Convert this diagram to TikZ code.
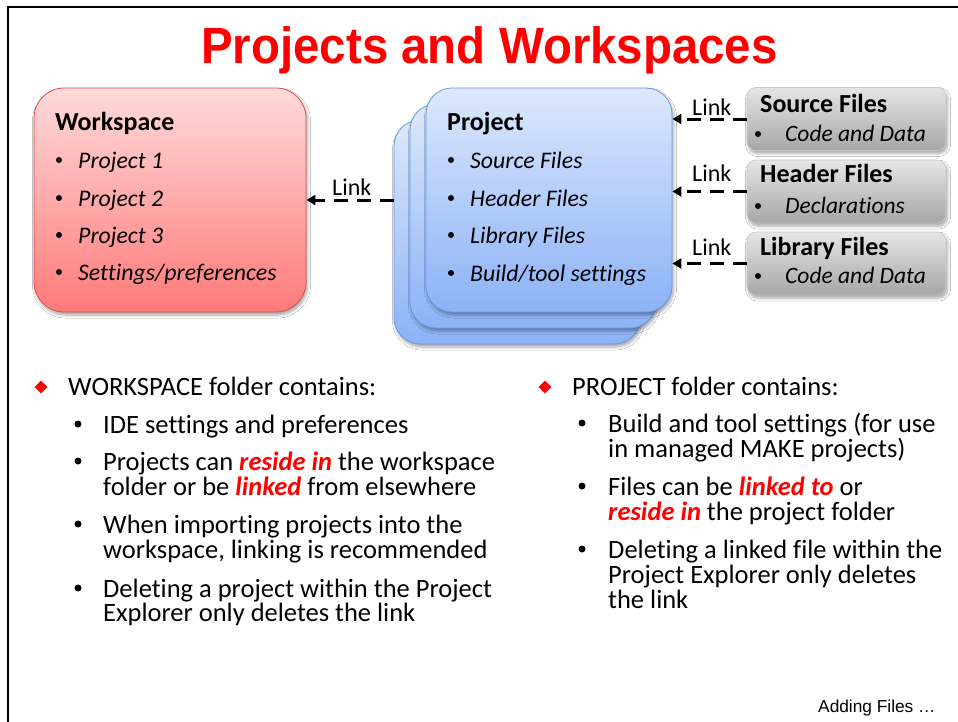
\documentclass[tikz,border=0pt]{standalone}
\usepackage{fontspec}
\setmainfont[Ligatures=NoCommon]{Carlito}
\newfontfamily\arialfont{Liberation Sans}
\usetikzlibrary{shadows.blur, arrows.meta, shapes.geometric}

\definecolor{titlered}{RGB}{255,0,0}
\definecolor{empred}{RGB}{255,0,0}
\definecolor{wstop}{RGB}{255,218,218}
\definecolor{wsbot}{RGB}{255,122,122}
\definecolor{wsedge}{RGB}{228,72,72}
\definecolor{prtop}{RGB}{220,232,253}
\definecolor{prbot}{RGB}{140,178,247}
\definecolor{predge}{RGB}{104,152,232}
\definecolor{fltop}{RGB}{230,230,230}
\definecolor{flbot}{RGB}{166,166,166}
\definecolor{fledge}{RGB}{200,200,200}

\newcommand\hot[1]{{\color{empred}\bfseries\itshape #1}}

\tikzset{
  softshadow/.style={blur shadow={shadow blur steps=6, shadow xshift=1.5pt,
      shadow yshift=-3pt, shadow opacity=35, shadow blur radius=3pt}},
  wsbox/.style={draw=wsedge, line width=0.8pt, rounded corners=30pt,
      top color=wstop, bottom color=wsbot, softshadow,
      minimum width=272pt, minimum height=224pt, inner sep=0pt},
  prbox/.style={draw=predge, line width=0.8pt, rounded corners=26pt,
      top color=prtop, bottom color=prbot, softshadow,
      minimum width=246pt, minimum height=224pt, inner sep=0pt},
  flbox/.style={draw=fledge, line width=0.6pt, rounded corners=9pt,
      top color=fltop, bottom color=flbot, softshadow,
      minimum width=199pt, minimum height=63pt, inner sep=0pt},
  linkarrow/.style={line width=3pt, dash pattern=on 14pt off 9pt,
      -{Triangle[length=9pt,width=10pt]}},
  linklabel/.style={anchor=base west, inner sep=0pt,
      font=\fontsize{24}{24}\selectfont},
  body/.style={anchor=base west, inner sep=0pt,
      font=\fontsize{26.5}{25}\selectfont},
  boxhead/.style={anchor=base west, inner sep=0pt,
      font=\fontsize{26}{26}\selectfont\bfseries},
  boxitem/.style={anchor=base west, inner sep=0pt,
      font=\fontsize{23.8}{23.8}\selectfont\itshape},
  fileitem/.style={anchor=base west, inner sep=0pt,
      font=\fontsize{23.5}{23.5}\selectfont\itshape},
  dot/.style={circle, fill=black, inner sep=0pt, minimum size=6pt},
  bigdot/.style={circle, fill=black, inner sep=0pt, minimum size=7pt},
  reddiamond/.style={diamond, fill=empred, inner sep=0pt,
      minimum width=13pt, minimum height=13pt}
}

\begin{document}
\begin{tikzpicture}[x=1pt,y=-1pt]
  \useasboundingbox (0,0) rectangle (958,721);
  \fill[white] (0,0) rectangle (958,721);

  % slide frame (left and top edges)
  \draw[line width=2.5pt] (8,722) -- (8,7) -- (959,7);

  % title
  \node[anchor=base, inner sep=0pt, text=titlered] (title) at (489.5,63)
    {\scalebox{0.93}[1]{\fontsize{51}{51}\arialfont\bfseries Projects and Workspaces}};

  % workspace box
  \node[wsbox] (ws) at (170,200) {};
  \node[boxhead] (wshead) at (55,130) {Workspace};
  \node[dot] (wsd1) at (59,160) {};
  \node[dot] (wsd2) at (59,198) {};
  \node[dot] (wsd3) at (59,235) {};
  \node[dot] (wsd4) at (59,272) {};
  \node[boxitem] (wsi1) at (78,168) {Project 1};
  \node[boxitem] (wsi2) at (78,206) {Project 2};
  \node[boxitem] (wsi3) at (78,243) {Project 3};
  \node[boxitem] (wsi4) at (78,280) {Settings/preferences};

  % stacked project boxes, back to front
  \node[prbox] (prj3) at (517,232) {};
  \node[prbox] (prj2) at (533,216) {};
  \node[prbox] (prj1) at (549,200) {};
  \node[boxhead] (prhead) at (447,130) {Project};
  \node[dot] (prd1) at (451,160) {};
  \node[dot] (prd2) at (451,198) {};
  \node[dot] (prd3) at (451,235) {};
  \node[dot] (prd4) at (451,273) {};
  \node[boxitem] (pri1) at (470,168) {Source Files};
  \node[boxitem] (pri2) at (470,206) {Header Files};
  \node[boxitem] (pri3) at (470,243) {Library Files};
  \node[boxitem] (pri4) at (470,281) {Build/tool settings};

  % file group boxes
  \node[flbox] (src) at (846.5,119) {};
  \node[flbox] (hdr) at (846.5,191.5) {};
  \node[flbox] (lib) at (846.5,263.5) {};
  \node[boxhead] (srchead) at (760,112) {Source Files};
  \node[dot] (srcd) at (758,134) {};
  \node[fileitem] (srci) at (785,141) {Code and Data};
  \node[boxhead] (hdrhead) at (760,182) {Header Files};
  \node[dot] (hdrd) at (758,206) {};
  \node[fileitem] (hdri) at (785,213) {Declarations};
  \node[boxhead] (libhead) at (760,255) {Library Files};
  \node[dot] (libd) at (758,276) {};
  \node[fileitem] (libi) at (785,283) {Code and Data};

  % link connectors
  \draw[linkarrow] (src.west) -- (prj1.east |- src.west);
  \draw[linkarrow] (hdr.west) -- (prj1.east |- hdr.west);
  \draw[linkarrow] (lib.west) -- (prj1.east |- lib.west);
  \draw[linkarrow] (prj3.west |- ws.east) -- (ws.east);
  \node[linklabel] (lk1) at (692,115) {Link};
  \node[linklabel] (lk2) at (692,181) {Link};
  \node[linklabel] (lk3) at (692,255) {Link};
  \node[linklabel] (lk0) at (332,195) {Link};

  % workspace folder notes
  \node[reddiamond] (ld) at (41,387) {};
  \node[body] (l0) at (68,395) {WORKSPACE folder contains:};
  \node[bigdot] (lb1) at (78,424) {};
  \node[bigdot] (lb2) at (78,461) {};
  \node[bigdot] (lb3) at (78,524) {};
  \node[bigdot] (lb4) at (78,588) {};
  \node[body] (l1) at (103,433) {IDE settings and preferences};
  \node[body] (l2a) at (103,470) {Projects can \hot{reside in} the workspace};
  \node[body] (l2b) at (103,495) {folder or be \hot{linked} from elsewhere};
  \node[body] (l3a) at (103,533) {When importing projects into the};
  \node[body] (l3b) at (103,558) {workspace, linking is recommended};
  \node[body] (l4a) at (103,597) {Deleting a project within the Project};
  \node[body] (l4b) at (103,621) {Explorer only deletes the link};

  % project folder notes
  \node[reddiamond] (rd) at (545,387) {};
  \node[body] (r0) at (572,395) {PROJECT folder contains:};
  \node[bigdot] (rb1) at (582,423) {};
  \node[bigdot] (rb2) at (582,486) {};
  \node[bigdot] (rb3) at (582,549) {};
  \node[body] (r1a) at (608,432) {Build and tool settings (for use};
  \node[body] (r1b) at (608,457) {in managed MAKE projects)};
  \node[body] (r2a) at (608,495) {Files can be \hot{linked to} or};
  \node[body] (r2b) at (608,520) {\hot{reside in} the project folder};
  \node[body] (r3a) at (608,558) {Deleting a linked file within the};
  \node[body] (r3b) at (608,583) {Project Explorer only deletes};
  \node[body] (r3c) at (608,608) {the link};

  % footer
  \node[anchor=base west, inner sep=0pt] (next) at (818,712)
    {\fontsize{17.3}{17.3}\arialfont Adding Files \dots};
\end{tikzpicture}
\end{document}
